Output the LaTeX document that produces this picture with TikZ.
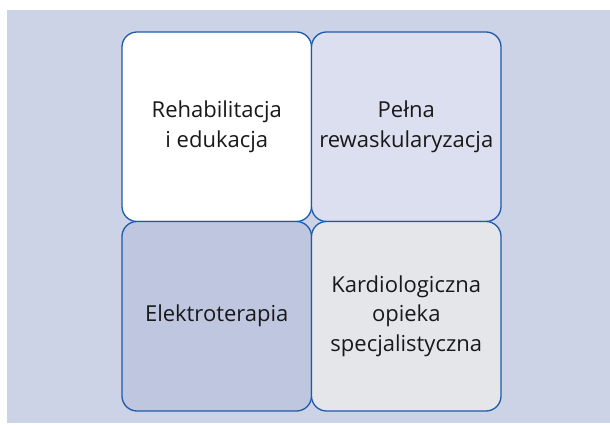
\documentclass[tikz,border=0pt]{standalone}
\usepackage{fontspec}
\setmainfont{Open Sans}
\definecolor{bgc}{HTML}{CDD3E6}
\definecolor{edgec}{HTML}{1F5AA6}
\definecolor{ctl}{HTML}{FFFFFF}
\definecolor{ctr}{HTML}{DCDFEF}
\definecolor{cbl}{HTML}{BFC6E0}
\definecolor{cbr}{HTML}{E5E6EA}
\tikzset{
  cell/.style={draw=edgec, line width=1.3pt, rounded corners=15pt, minimum width=189.5pt, minimum height=189.5pt, inner sep=0pt},
  celltext/.style={align=center, font=\fontsize{22}{29.5}\selectfont, text=black!90}
}
\begin{document}
\begin{tikzpicture}[x=1pt,y=1pt]
\useasboundingbox (0,0) rectangle (610,425);
\fill[bgc] (7,2) rectangle (610,415);
\node[cell, fill=ctl] (tl) at (216.75,298.25) {};
\node[cell, fill=ctr] (tr) at (406.25,298.25) {};
\node[cell, fill=cbl] (bl) at (216.75,108.75) {};
\node[cell, fill=cbr] (br) at (406.25,108.75) {};
\node[celltext] (ttl) at (tl) {Rehabilitacja\\i edukacja};
\node[celltext] (ttr) at (tr) {Pełna\\rewaskularyzacja};
\node[celltext] (tbl) at (bl) {Elektroterapia};
\node[celltext] (tbr) at (br) {Kardiologiczna\\opieka\\specjalistyczna};
\end{tikzpicture}
\end{document}
